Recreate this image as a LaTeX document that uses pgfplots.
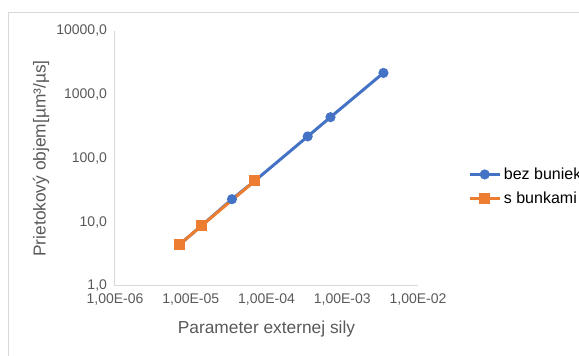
\documentclass[border=0pt]{standalone}
\usepackage{pgfplots}
\pgfplotsset{compat=1.18}
\usepackage{fontspec}
\setmainfont{Liberation Sans}
\definecolor{tickgray}{HTML}{595959}
\definecolor{axgray}{HTML}{D9D9D9}
\definecolor{xblue}{HTML}{4472C4}
\definecolor{xorange}{HTML}{ED7D31}
\begin{document}
\begin{tikzpicture}
\useasboundingbox (0pt,0pt) rectangle (434.25pt,267pt);
\clip (0pt,0pt) rectangle (434.25pt,267pt);
\draw[axgray, line width=0.75pt] (6pt,-1pt) -- (6pt,257.25pt) -- (436pt,257.25pt);
\begin{axis}[
  at={(86.25pt,52.5pt)}, anchor=south west,
  scale only axis, width=227.25pt, height=191.25pt,
  xmode=log, ymode=log,
  xmin=1e-6, xmax=1e-2, ymin=1, ymax=10000,
  axis x line*=bottom, axis y line*=left,
  axis line style={axgray, line width=0.75pt, -},
  major tick length=0pt, minor tick length=0pt,
  minor xtick={}, minor ytick={},
  xtick={1e-6,1e-5,1e-4,1e-3,1e-2},
  xticklabels={{1,00E-06},{1,00E-05},{1,00E-04},{1,00E-03},{1,00E-02}},
  ytick={1,10,100,1000,10000},
  yticklabels={{1,0},{10,0},{100,0},{1000,0},{10000,0}},
  xticklabel style={font=\fontsize{10.5}{12}\selectfont, text=tickgray, yshift=-2.5pt},
  yticklabel style={font=\fontsize{10.5}{12}\selectfont, text=tickgray, xshift=-2.5pt},
  xlabel={Parameter externej sily},
  ylabel={Prietokový objem[µm³/µs]},
  xlabel style={at={(axis description cs:0.5,-0.169)}, anchor=center, font=\fontsize{13}{15}\selectfont, text=tickgray},
  ylabel style={at={(axis description cs:-0.244,0.5)}, anchor=center, font=\fontsize{13}{15}\selectfont, text=tickgray},
  legend style={at={(axis description cs:1.165,0.39)}, anchor=west, draw=none, fill=none,
    font=\fontsize{12}{14}\selectfont, row sep=4pt, inner sep=0pt},
  legend cell align=left,
  legend image code/.code={\draw[mark repeat=2,mark phase=2] plot coordinates {(0pt,0pt) (11.25pt,0pt) (22.5pt,0pt)};},
  clip=false,
]
\addplot[xblue, line width=2.25pt, mark=*, mark size=2.6pt, mark options={solid, fill=xblue, draw=xblue}]
  coordinates {(7e-6,4.4) (1.4e-5,8.9) (3.5e-5,23) (7e-5,44.5) (3.5e-4,222) (7e-4,445) (3.5e-3,2200)};
\addlegendentry{bez buniek}
\addplot[xorange, line width=2.25pt, mark=square*, mark size=3pt, mark options={solid, fill=xorange, draw=xorange}]
  coordinates {(7e-6,4.4) (1.4e-5,8.9) (7e-5,44.4)};
\addlegendentry{s bunkami}
\end{axis}
\end{tikzpicture}
\end{document}
